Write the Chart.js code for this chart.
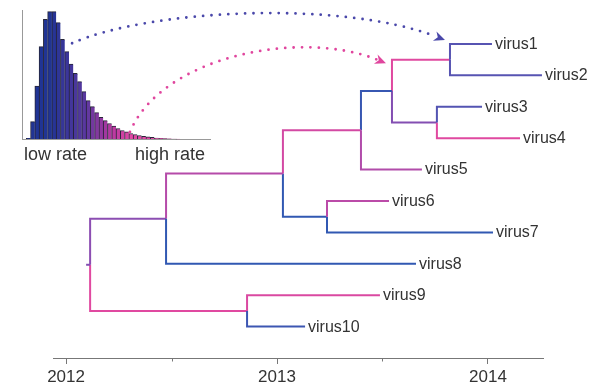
<!DOCTYPE html>
<html>
<head>
<meta charset="utf-8">
<script src="https://cdn.jsdelivr.net/npm/chart.js@4/dist/chart.umd.min.js"></script>
<style>
  html, body { margin: 0; padding: 0; background: #fff; }
  #wrap { position: relative; width: 593px; height: 384px; }
  #hist { position: absolute; left: 0; top: 0; z-index: 1; }
  #tree { position: absolute; left: 0; top: 0; z-index: 2; }
</style>
</head>
<body>
<div id="wrap">
  <canvas id="hist" width="220" height="170"></canvas>
  <canvas id="tree" width="593" height="384"></canvas>
</div>
<script>
// ---- Tree: tips (decimal-year sampling dates, parent node, branch rate 0=slow..1=fast)
const tipNames   = ['virus1', 'virus2', 'virus3', 'virus4', 'virus5', 'virus6', 'virus7', 'virus8', 'virus9', 'virus10'];
const tipDates   = [2014.019, 2014.256, 2013.972, 2014.152, 2013.687, 2013.531, 2014.024, 2013.659, 2013.488, 2013.133];
const tipParents = ['F', 'F', 'G', 'G', 'C', 'D', 'D', 'A', 'H', 'H'];
const tipRates   = [0.22, 0.22, 0.2, 0.95, 0.7, 0.75, 0.02, 0.02, 0.92, 0.08];

// ---- Tree: internal nodes
const nodeNames   = ['root', 'A', 'B', 'C', 'D', 'E', 'F', 'G', 'H'];
const nodeDates   = [2012.114, 2012.474, 2013.028, 2013.398, 2013.237, 2013.545, 2013.820, 2013.758, 2012.858];
const nodeParents = [null, 'root', 'A', 'B', 'B', 'C', 'E', 'E', 'root'];
const nodeRates   = [0.45, 0.5, 0.72, 0.88, 0.02, 0.05, 0.95, 0.45, 0.95];
const rootStemDate = 2012.095;

// ---- Time axis
const axisMin = 2011.938;
const axisMax = 2014.261;
const axisTicks = [2012, 2012.5, 2013, 2013.5, 2014];

// ---- Inset: posterior distribution of the clock rate
const binCounts = [0, 0.9, 13.9, 41.7, 72.4, 93.8, 99.7, 99.7, 91.1, 78.2, 68.5, 58.9, 51.6, 45.1, 37.3,
                   30.3, 25.6, 20.9, 17.3, 14.7, 12.5, 10.5, 8.6, 7.0, 5.9, 4.7, 3.9, 3.1, 2.5, 2.0,
                   1.6, 1.2, 0.9, 0.8, 0.5, 0.4, 0.3, 0, 0, 0, 0, 0, 0, 0];
const binLabels = binCounts.map((_, i) => 'bin' + i);
const rateLabels = ['low rate', 'high rate'];

const FONT = '"Liberation Sans", Arial, Helvetica, sans-serif';

function mix(stops, t) {
  t = Math.max(0, Math.min(1, t));
  for (let i = 1; i < stops.length; i++) {
    if (t <= stops[i][0]) {
      const [t0, c0] = stops[i - 1], [t1, c1] = stops[i];
      const f = (t - t0) / (t1 - t0);
      const c = c0.map((v, k) => Math.round(v + (c1[k] - v) * f));
      return `rgb(${c[0]},${c[1]},${c[2]})`;
    }
  }
  const c = stops[stops.length - 1][1];
  return `rgb(${c[0]},${c[1]},${c[2]})`;
}
const branchStops = [[0, [45, 88, 178]], [0.5, [140, 78, 178]], [1, [233, 72, 158]]];
const barStops = [[0, [32, 52, 148]], [0.45, [92, 56, 160]], [0.75, [182, 56, 160]], [1, [226, 72, 166]]];

// ---- Inset histogram
const histLabelPlugin = {
  id: 'histLabels',
  afterDraw(chart) {
    const { ctx, chartArea } = chart;
    ctx.save();
    ctx.fillStyle = '#333';
    ctx.font = '18px ' + FONT;
    ctx.textBaseline = 'alphabetic';
    ctx.textAlign = 'left';
    ctx.fillText(rateLabels[0], chartArea.left + 2, chartArea.bottom + 20.5);
    ctx.textAlign = 'right';
    ctx.fillText(rateLabels[1], chartArea.right - 5, chartArea.bottom + 20.5);
    ctx.restore();
  }
};

const histChart = new Chart(document.getElementById('hist'), {
  type: 'bar',
  data: {
    labels: binLabels,
    datasets: [{
      data: binCounts,
      backgroundColor: binCounts.map((_, i) => mix(barStops, (i - 6) / 19)),
      borderColor: 'rgba(15,15,35,0.9)',
      borderWidth: { top: 1, left: 1, right: 0, bottom: 0 },
      borderSkipped: false,
      barPercentage: 1,
      categoryPercentage: 1
    }]
  },
  options: {
    responsive: false,
    animation: false,
    events: [],
    layout: { padding: { left: 22, top: 10, right: 10, bottom: 30.5 } },
    plugins: { legend: { display: false }, tooltip: { enabled: false } },
    scales: {
      x: {
        ticks: { display: false },
        grid: { display: true, drawOnChartArea: false, drawTicks: false },
        border: { display: true, color: '#999', width: 1 },
        afterFit: s => { s.height = 0; }
      },
      y: {
        min: 0, max: 101,
        ticks: { display: false },
        grid: { display: true, drawOnChartArea: false, drawTicks: false },
        border: { display: true, color: '#999', width: 1 },
        afterFit: s => { s.width = 0; }
      }
    }
  },
  plugins: [histLabelPlugin]
});

// ---- Tree layout (tips stacked by index, internal nodes centred on their children)
const allNames = tipNames.concat(nodeNames);
const allDates = tipDates.concat(nodeDates);
const allParents = tipParents.concat(nodeParents);
const allRates = tipRates.concat(nodeRates);
const yOf = {};
tipNames.forEach((n, i) => { yOf[n] = i; });
function nodeY(name) {
  if (name in yOf) return yOf[name];
  const kids = allNames.filter((n, i) => allParents[i] === name).map(nodeY);
  yOf[name] = (Math.min(...kids) + Math.max(...kids)) / 2;
  return yOf[name];
}
allNames.forEach(nodeY);
const dateOf = Object.fromEntries(allNames.map((n, i) => [n, allDates[i]]));

const datasets = allNames.map((n, i) => {
  const p = allParents[i];
  const pts = p
    ? [{ x: dateOf[p], y: yOf[p] }, { x: dateOf[p], y: yOf[n] }, { x: dateOf[n], y: yOf[n] }]
    : [{ x: rootStemDate, y: yOf[n] }, { x: dateOf[n], y: yOf[n] }];
  return {
    label: n,
    data: pts,
    showLine: true,
    borderColor: mix(branchStops, allRates[i]),
    borderWidth: 2,
    borderJoinStyle: 'miter',
    borderCapStyle: 'butt',
    pointRadius: 0,
    tension: 0,
    clip: false
  };
});

function dottedArrow(ctx, p0, c1, c2, p3, color) {
  const ang = Math.atan2(p3.y - c2.y, p3.x - c2.x);
  const headLen = 11, headHalf = 5;
  const end = { x: p3.x - Math.cos(ang) * (headLen - 1), y: p3.y - Math.sin(ang) * (headLen - 1) };
  ctx.save();
  ctx.strokeStyle = color;
  ctx.fillStyle = color;
  ctx.lineWidth = 2.8;
  ctx.lineCap = 'round';
  ctx.setLineDash([0, 8.4]);
  ctx.beginPath();
  ctx.moveTo(p0.x, p0.y);
  ctx.bezierCurveTo(c1.x, c1.y, c2.x, c2.y, end.x, end.y);
  ctx.stroke();
  ctx.setLineDash([]);
  ctx.translate(p3.x, p3.y);
  ctx.rotate(ang);
  ctx.beginPath();
  ctx.moveTo(0, 0);
  ctx.lineTo(-headLen, -headHalf);
  ctx.lineTo(-headLen * 0.7, 0);
  ctx.lineTo(-headLen, headHalf);
  ctx.closePath();
  ctx.fill();
  ctx.restore();
}

const treeDecor = {
  id: 'treeDecor',
  afterDraw(chart) {
    const { ctx } = chart;
    const xs = chart.scales.x, ys = chart.scales.y;
    ctx.save();
    // tip names
    ctx.fillStyle = '#333';
    ctx.font = '16px ' + FONT;
    ctx.textAlign = 'left';
    ctx.textBaseline = 'middle';
    tipNames.forEach((n, i) => {
      ctx.fillText(n, xs.getPixelForValue(tipDates[i]) + 3, ys.getPixelForValue(yOf[n]) + 0.5);
    });
    // half-year minor ticks
    ctx.strokeStyle = '#777';
    ctx.lineWidth = 1;
    axisTicks.filter(v => !Number.isInteger(v)).forEach(v => {
      const x = Math.round(xs.getPixelForValue(v)) + 0.5;
      ctx.beginPath();
      ctx.moveTo(x, xs.top);
      ctx.lineTo(x, xs.top + 3.5);
      ctx.stroke();
    });
    ctx.restore();

    // rate arrows: from the histogram to the branches they colour
    const bars = histChart.getDatasetMeta(0).data;
    const slowBar = bars[9], fastBar = bars[25];
    const fX = xs.getPixelForValue(dateOf['F']), fY = ys.getPixelForValue(yOf['virus1']);
    const eX = xs.getPixelForValue(dateOf['E']), eY = ys.getPixelForValue(yOf['F']);

    const b0 = { x: slowBar.x + 9.5, y: slowBar.y + 4 };
    const b3 = { x: fX - 5, y: fY - 4 };
    dottedArrow(ctx, b0, { x: b0.x + 78, y: b0.y - 34 }, { x: b3.x - 105, y: b3.y - 40 }, b3, '#4a48aa');

    const p0 = { x: fastBar.x - 1, y: fastBar.y - 1.5 };
    const p3 = { x: eX - 6, y: eY + 3.5 };
    dottedArrow(ctx, p0, { x: p0.x + 32, y: p0.y - 76 }, { x: p3.x - 86, y: p3.y - 34 }, p3, '#e0469e');
  }
};

new Chart(document.getElementById('tree'), {
  type: 'scatter',
  data: { datasets },
  options: {
    responsive: false,
    animation: false,
    events: [],
    layout: { padding: { left: 53, right: 50, top: 0, bottom: 0 } },
    plugins: { legend: { display: false }, tooltip: { enabled: false } },
    scales: {
      x: {
        type: 'linear',
        min: axisMin,
        max: axisMax,
        afterBuildTicks: s => { s.ticks = axisTicks.map(v => ({ value: v })); },
        afterFit: s => { s.height = 26; },
        ticks: {
          autoSkip: false,
          maxRotation: 0,
          padding: 3,
          color: '#333',
          font: { family: FONT, size: 17 },
          callback: v => Number.isInteger(v) ? String(v) : ''
        },
        grid: {
          display: true,
          drawOnChartArea: false,
          drawTicks: true,
          tickLength: 6,
          tickWidth: 1,
          tickColor: c => (c.tick && Number.isInteger(c.tick.value)) ? '#777' : 'rgba(0,0,0,0)'
        },
        border: { display: true, color: '#777', width: 1 }
      },
      y: { type: 'linear', display: false, reverse: true, min: -1.4, max: 10 }
    }
  },
  plugins: [treeDecor]
});
</script>
</body>
</html>
